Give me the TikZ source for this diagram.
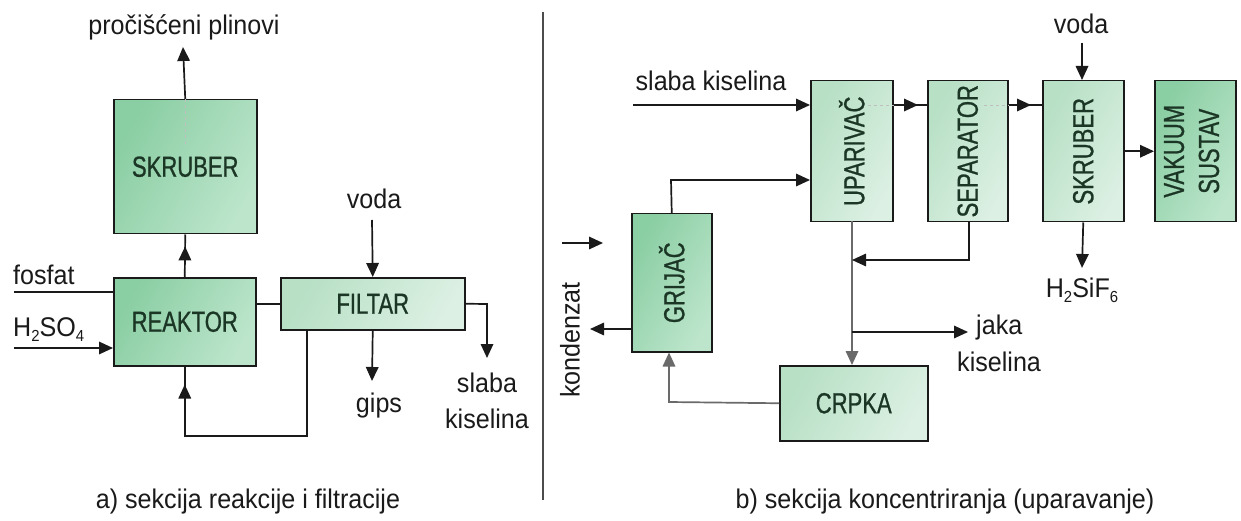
\documentclass[tikz,border=0pt]{standalone}
\usepackage{fontspec}
\setmainfont{Liberation Sans}[FakeStretch=0.93]
\newfontfamily\boxfont{Liberation Sans}[FakeStretch=0.76,FakeBold=0.8]
\usetikzlibrary{arrows.meta,decorations.markings}
\definecolor{boxdarkA}{HTML}{8ACEA3}
\definecolor{boxdarkB}{HTML}{BCE5CB}
\definecolor{boxlightA}{HTML}{B7E0C5}
\definecolor{boxlightB}{HTML}{DCF0E3}
\definecolor{txtgreen}{HTML}{1C3626}
\definecolor{ln}{HTML}{1A1A1A}
\definecolor{lngray}{HTML}{6A6A6A}
\begin{document}
\begin{tikzpicture}[x=1pt,y=-1pt,
  font=\fontsize{27}{31}\selectfont,
  every node/.style={text=ln},
  boxbase/.style={draw=ln, line width=1.5pt, inner sep=0pt, anchor=north west, text=txtgreen, font=\boxfont\fontsize{29}{31}\selectfont},
  dbox/.style={boxbase, left color=boxdarkA, right color=boxdarkB, shading angle=60},
  lbox/.style={boxbase, left color=boxlightA, right color=boxlightB, shading angle=60},
  conn/.style={draw=ln, line width=1.7pt},
  gconn/.style={draw=lngray, line width=1.7pt},
  arr/.style={-{Triangle[length=14pt,width=12.5pt]}},
  midarr/.style={postaction={decorate},decoration={markings,mark=at position #1 with {\arrow{Triangle[length=14pt,width=12.5pt]}}}},
  faint/.style={draw=black!25, line width=0.8pt, dash pattern=on 3pt off 3pt},
  lbl/.style={inner sep=0pt}
]
\useasboundingbox (0,0) rectangle (1241,521);
\fill[white] (0,0) rectangle (1241,521);

% ---------- part a ----------
\node[dbox, minimum width=143pt, minimum height=134pt] (skr1) at (113,99) {SKRUBER};
\node[dbox, minimum width=142pt, minimum height=88pt] (reak) at (113,277) {REAKTOR};
\node[lbox, minimum width=184pt, minimum height=52pt] (filt) at (280,277) {FILTAR};
\draw[faint] (skr1.north) -- ++(0,45);

\node[lbl] (plin) at (184,27) {pročišćeni plinovi};
\coordinate (plinend) at (183,47);
\draw[conn, arr] (skr1.north) -- (plinend);
\draw[conn, midarr=0.72] (reak.north) -- (skr1.south);

\node[lbl, anchor=west] (fosfat) at (13,275) {fosfat};
\coordinate (fosin) at (14,292);
\draw[conn] (fosin) -- (fosin -| reak.west);

\node[lbl, anchor=west] (h2so4) at (13,330) {H\raisebox{-0.35ex}{\fontsize{16}{16}\selectfont 2}SO\raisebox{-0.35ex}{\fontsize{16}{16}\selectfont 4}};
\coordinate (h2in) at (14,348);
\draw[conn, arr] (h2in) -- (h2in -| reak.west);

\draw[conn] (filt.west) -- (filt.west -| reak.east);

\node[lbl] (voda1) at (374,199) {voda};
\coordinate (voda1s) at (372,220);
\draw[conn, arr] (voda1s) -- (filt.north);

\coordinate (gipsend) at (372,381);
\draw[conn, arr] (filt.south) -- (gipsend);
\node[lbl] (gips) at (379,406) {gips};

\coordinate (slabbend) at (487,304);
\coordinate (slabend) at (487,358);
\draw[conn, arr] (filt.east) -- (slabbend) -- (slabend);
\node[lbl, align=center] (slaba1) at (487,401) {slaba\\[5pt]kiselina};

\coordinate (rc) at (307,436);
\draw[conn, midarr=-18pt] (filt.south -| rc) -- (rc) -- (rc -| reak.south) -- (reak.south);

\node[lbl] (capa) at (248,502) {a) sekcija reakcije i filtracije};

% divider
\coordinate (divt) at (543,12);
\coordinate (divb) at (543,500);
\draw[draw=black!70, line width=1.5pt] (divt) -- (divb);

% ---------- part b ----------
\node[lbox, minimum width=82pt, minimum height=141pt] (upar) at (810,80) {\rotatebox{90}{UPARIVAČ}};
\node[lbox, minimum width=80pt, minimum height=141pt] (sep) at (927,80) {\rotatebox{90}{SEPARATOR}};
\node[lbox, minimum width=81pt, minimum height=141pt] (skr2) at (1042,80) {\rotatebox{90}{SKRUBER}};
\node[dbox, minimum width=81pt, minimum height=141pt] (vak) at (1154,80) {\rotatebox{90}{\begin{tabular}{@{}c@{}}VAKUUM\\[4pt]SUSTAV\end{tabular}}};
\node[dbox, minimum width=80pt, minimum height=138pt] (grij) at (631,213) {\rotatebox{90}{GRIJAČ}};
\node[lbox, minimum width=148pt, minimum height=75pt] (crpka) at (779,365) {CRPKA};

\draw[faint] (868,105) -- (upar.east |- 0,105);
\draw[faint] (984,105) -- (sep.east |- 0,105);

\node[lbl] (slabk) at (711,81) {slaba kiselina};
\coordinate (slabkin) at (633,105);
\draw[conn, arr] (slabkin) -- (slabkin -| upar.west);
\coordinate (us) at (upar.east |- slabkin);
\draw[conn, midarr=-9pt] (us) -- (us -| sep.west);
\draw[conn, midarr=-11pt] (us -| sep.east) -- (us -| skr2.west);

\node[lbl] (voda2) at (1081,24) {voda};
\coordinate (voda2s) at (1082,43);
\draw[conn, arr] (voda2s) -- (voda2s |- skr2.north);

\coordinate (h2sifend) at (1082,268);
\draw[conn, arr] (skr2.south) -- (h2sifend);
\node[lbl] (h2sif) at (1082,290) {H\raisebox{-0.35ex}{\fontsize{16}{16}\selectfont 2}SiF\raisebox{-0.35ex}{\fontsize{16}{16}\selectfont 6}};

\draw[conn, arr] (skr2.east) -- (vak.west);

\coordinate (gu) at (671,180);
\draw[conn, arr] (grij.north) -- (gu) -- (gu -| upar.west);

\coordinate (frs) at (562,243);
\coordinate (fre) at (603,243);
\draw[conn, arr] (frs) -- (fre);

\coordinate (kond) at (590,329);
\draw[conn, arr] (kond -| grij.west) -- (kond);
\node[lbl, rotate=90] (kondt) at (570,340) {kondenzat};

\coordinate (ux) at (852,221);
\draw[gconn, arr] (ux) -- (ux |- crpka.north);

\coordinate (sepc) at (969,260);
\draw[conn, arr] (sepc |- sep.south) -- (sepc) -- (sepc -| ux);

\coordinate (jk) at (852,332);
\coordinate (jke) at (968,332);
\draw[conn, arr] (jk) -- (jke);
\node[lbl, anchor=west] (jaka) at (976,328) {jaka};
\node[lbl, anchor=west] (kis2) at (957,362) {kiselina};

\coordinate (cg) at (669,402);
\draw[gconn, arr] (crpka.west) -- (cg) -- (cg |- grij.south);

\node[lbl] (capb) at (945,502) {b) sekcija koncentriranja (uparavanje)};
\end{tikzpicture}
\end{document}
